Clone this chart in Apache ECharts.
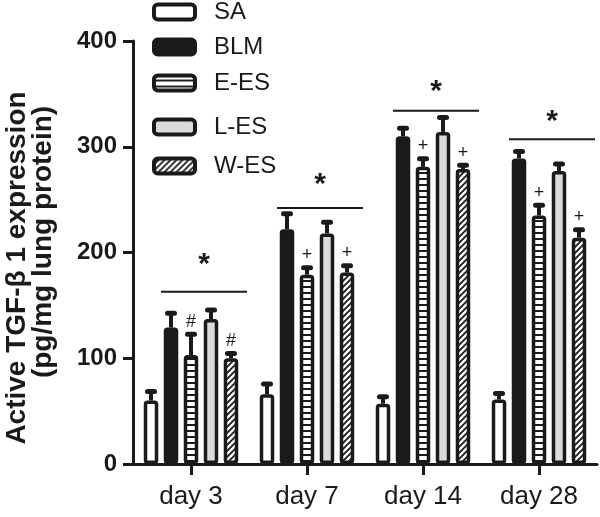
<!DOCTYPE html>
<html><head><meta charset="utf-8">
<script src="https://cdn.jsdelivr.net/npm/echarts@6/dist/echarts.min.js"></script>
<style>html,body{margin:0;padding:0;background:#fff}#c{width:600px;height:517px}</style>
</head><body><div id="c"></div>
<script>
// ---- data ----
const categories = ['day 3', 'day 7', 'day 14', 'day 28'];
const seriesNames = ['SA', 'BLM', 'E-ES', 'L-ES', 'W-ES'];
const SA      = [60, 66, 57, 61];
const SA_err  = [10, 11, 8, 7];
const BLM     = [129, 222, 310, 289];
const BLM_err = [15, 16, 9, 8];
const EES     = [103, 179, 281, 235];
const EES_err = [21, 8, 9, 11];
const LES     = [137, 218, 314, 277];
const LES_err = [10, 12, 15, 8];
const WES     = [100, 181, 279, 214];
const WES_err = [6, 8, 5, 9];
const sigLine = [163, 242, 334, 307];
const sigStar = [188, 264, 352, 324];
const markE   = ['#', '+', '+', '+'];
const markW   = ['#', '+', '+', '+'];
const yMin = 0, yMax = 400, yStep = 100;
const yTitle1 = 'Active TGF-β 1 expression';
const yTitle2 = '(pg/mg lung protein)';

// ---- styles ----
const INK = '#1a1a1a';
const FONT = '"Liberation Sans", Arial, Helvetica, sans-serif';
const STEP = 20;

function stripePattern() {
  const c = document.createElement('canvas'); c.width = 8; c.height = 6;
  const g = c.getContext('2d');
  g.fillStyle = '#fff'; g.fillRect(0, 0, 8, 6);
  g.fillStyle = INK; g.fillRect(0, 4, 8, 2.2);
  return { image: c, repeat: 'repeat' };
}
function hatchPattern() {
  const s = 6;
  const c = document.createElement('canvas'); c.width = s; c.height = s;
  const g = c.getContext('2d');
  g.fillStyle = '#fff'; g.fillRect(0, 0, s, s);
  g.strokeStyle = INK; g.lineWidth = 1.8;
  g.beginPath();
  g.moveTo(-1, s + 1); g.lineTo(s + 1, -1);
  g.moveTo(-1, 1); g.lineTo(1, -1);
  g.moveTo(s - 1, s + 1); g.lineTo(s + 1, s - 1);
  g.stroke();
  return { image: c, repeat: 'repeat' };
}
const fills = ['#ffffff', INK, stripePattern(), '#d9dbdd', hatchPattern()];
const values = [SA, BLM, EES, LES, WES];
const errs = [SA_err, BLM_err, EES_err, LES_err, WES_err];

const barSeries = seriesNames.map((n, k) => ({
  name: n, type: 'bar', barWidth: 14.5, barGap: '37.9%',
  data: values[k],
  itemStyle: { color: fills[k], borderColor: INK, borderWidth: 3.5, borderRadius: 2 },
  z: 3, silent: true
}));

const errSeries = seriesNames.map((n, k) => ({
  type: 'custom', silent: true, z: 4,
  data: values[k].map((v, i) => [i, v, v + errs[k][i]]),
  renderItem(params, api) {
    const b = api.coord([api.value(0), api.value(1)]);
    const t = api.coord([api.value(0), api.value(2)]);
    const x = b[0] + (k - 2) * STEP;
    return { type: 'group', children: [
      { type: 'rect', shape: { x: x - 2, y: t[1], width: 4, height: b[1] - t[1] }, style: { fill: INK } },
      { type: 'rect', shape: { x: x - 6, y: t[1] - 1, width: 12, height: 5, r: 2.5 }, style: { fill: INK } }
    ]};
  }
}));

const annSeries = {
  type: 'custom', silent: true, z: 5,
  data: categories.map((c, i) => [i, sigLine[i], sigStar[i], EES[i] + EES_err[i], WES[i] + WES_err[i]]),
  renderItem(params, api) {
    const i = params.dataIndex;
    const l = api.coord([api.value(0), api.value(1)]);
    const s = api.coord([api.value(0), api.value(2)]);
    const e = api.coord([api.value(0), api.value(3)]);
    const w = api.coord([api.value(0), api.value(4)]);
    const cx = l[0];
    return { type: 'group', children: [
      { type: 'line', shape: { x1: cx - 30, y1: l[1], x2: cx + 56, y2: l[1] }, style: { stroke: INK, lineWidth: 2 } },
      { type: 'text', x: cx + 13, y: s[1], style: { text: '*', fontSize: 30, fontWeight: 'bold', fontFamily: FONT, fill: INK, align: 'center', verticalAlign: 'middle' } },
      { type: 'text', x: cx, y: e[1] - 2, style: { text: markE[i], fontSize: 18, fontFamily: FONT, fill: INK, align: 'center', verticalAlign: 'bottom' } },
      { type: 'text', x: cx + 2 * STEP, y: w[1] - 2, style: { text: markW[i], fontSize: 18, fontFamily: FONT, fill: INK, align: 'center', verticalAlign: 'bottom' } }
    ]};
  }
};

const legendTops = [0, 35, 71, 115, 154];
const legends = seriesNames.map((n, k) => ({
  data: [n], orient: 'vertical', left: 152, top: legendTops[k], padding: 0,
  itemWidth: 41, itemHeight: 15, icon: 'roundRect', selectedMode: false,
  itemStyle: { borderColor: INK, borderWidth: 4 },
  textStyle: { fontSize: 24, fontFamily: FONT, color: INK, padding: [0, 0, 0, 14] }
}));

const chart = echarts.init(document.getElementById('c'), null, { renderer: 'canvas' });
chart.setOption({
  animation: false,
  backgroundColor: '#fff',
  legend: legends,
  grid: { left: 133, top: 41, width: 464, height: 423, containLabel: false, outerBoundsMode: 'none' },
  xAxis: {
    type: 'category', data: categories,
    axisLine: { show: true, lineStyle: { color: INK, width: 3 } },
    axisTick: { show: true, alignWithLabel: true, length: 11, lineStyle: { color: INK, width: 3 } },
    axisLabel: { fontSize: 26, fontFamily: FONT, color: INK, margin: 20 },
    splitLine: { show: false }
  },
  yAxis: {
    type: 'value', min: yMin, max: yMax, interval: yStep,
    name: '{a|' + yTitle1 + '}\n{b|' + yTitle2 + '}',
    nameLocation: 'middle', nameRotate: 90, nameGap: 77,
    nameTextStyle: { fontSize: 28, fontWeight: 'bold', fontFamily: FONT, color: INK, lineHeight: 26,
      rich: { a: { fontSize: 28, fontWeight: 'bold', fontFamily: FONT, color: INK, lineHeight: 26, padding: [0, 31, 0, 0] },
              b: { fontSize: 28, fontWeight: 'bold', fontFamily: FONT, color: INK, lineHeight: 26, padding: [0, 0, 0, 21] } } },
    axisLine: { show: true, lineStyle: { color: INK, width: 3 } },
    axisTick: { show: true, length: 10, lineStyle: { color: INK, width: 3 } },
    axisLabel: { fontSize: 24, fontWeight: 'bold', fontFamily: FONT, color: INK, margin: 16 },
    splitLine: { show: false }
  },
  series: [...barSeries, ...errSeries, annSeries]
});
</script>
</body></html>
